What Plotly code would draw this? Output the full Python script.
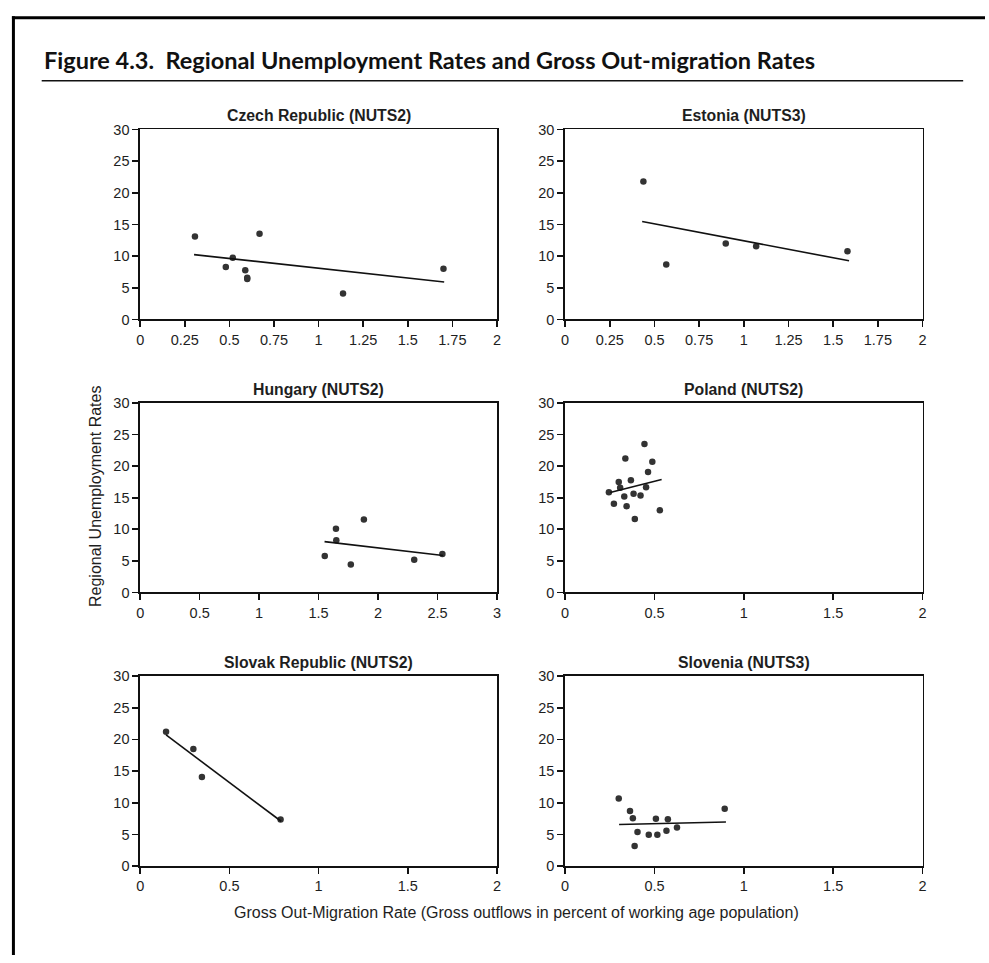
import plotly.graph_objects as go

W, H = 989, 963          # browser window; page margin removed below

# ---------------- data ----------------
czech_x = [0.307, 0.48, 0.519, 0.589, 0.60, 0.60, 0.669, 1.137, 1.70]
czech_y = [13.1, 8.28, 9.73, 7.76, 6.6, 6.4, 13.55, 4.09, 8.02]
czech_fit_x = [0.302, 1.704]
czech_fit_y = [10.24, 5.9]

estonia_x = [0.438, 0.566, 0.899, 1.069, 1.58]
estonia_y = [21.78, 8.69, 12.0, 11.54, 10.76]
estonia_fit_x = [0.431, 1.589]
estonia_fit_y = [15.47, 9.26]

hungary_x = [1.552, 1.646, 1.649, 1.771, 1.881, 2.304, 2.541]
hungary_y = [5.76, 10.07, 8.25, 4.41, 11.57, 5.19, 6.07]
hungary_fit_x = [1.55, 2.547]
hungary_fit_y = [8.04, 5.86]

poland_x = [0.245, 0.273, 0.300, 0.308, 0.331, 0.337, 0.344, 0.368, 0.383,
            0.390, 0.422, 0.444, 0.453, 0.464, 0.488, 0.530]
poland_y = [15.88, 14.06, 17.49, 16.6, 15.2, 21.2, 13.65, 17.75, 15.62,
            11.62, 15.36, 23.5, 16.66, 19.06, 20.7, 13.0]
poland_fit_x = [0.252, 0.54]
poland_fit_y = [15.83, 17.9]

slovak_x = [0.145, 0.298, 0.346, 0.787]
slovak_y = [21.2, 18.47, 14.07, 7.35]
slovak_fit_x = [0.145, 0.79]
slovak_fit_y = [20.7, 7.09]

slovenia_x = [0.30, 0.363, 0.379, 0.389, 0.405, 0.468, 0.508, 0.516, 0.567,
              0.575, 0.626, 0.893]
slovenia_y = [10.66, 8.69, 7.55, 3.2, 5.38, 4.97, 7.5, 4.97, 5.59, 7.4, 6.1, 9.05]
slovenia_fit_x = [0.302, 0.9]
slovenia_fit_y = [6.57, 6.98]

titles = ["Czech Republic (NUTS2)", "Estonia (NUTS3)", "Hungary (NUTS2)",
          "Poland (NUTS2)", "Slovak Republic (NUTS2)", "Slovenia (NUTS3)"]

ticks_quarter = [0, 0.25, 0.5, 0.75, 1, 1.25, 1.5, 1.75, 2]
ticks_quarter_text = ["0", "0.25", "0.5", "0.75", "1", "1.25", "1.5", "1.75", "2"]
ticks_half2 = [0, 0.5, 1, 1.5, 2]
ticks_half2_text = ["0", "0.5", "1", "1.5", "2"]
ticks_half3 = [0, 0.5, 1, 1.5, 2, 2.5, 3]
ticks_half3_text = ["0", "0.5", "1", "1.5", "2", "2.5", "3"]
y_ticks = [0, 5, 10, 15, 20, 25, 30]

fig_title = "Figure 4.3.  Regional Unemployment Rates and Gross Out-migration Rates"
y_title = "Regional Unemployment Rates"
x_title = "Gross Out-Migration Rate (Gross outflows in percent of working age population)"

# ---------------- layout helpers (page pixels -> paper) ----------------
def px_x(p):
    return p / W

def px_y(p):
    return 1 - p / H

col_x = [(137.3, 497.0), (565.7, 926.0)]
row_y = [(123.5, 316.7), (401.7, 594.3), (679.3, 872.7)]

panels = [
    (czech_x, czech_y, czech_fit_x, czech_fit_y, [0, 2], ticks_quarter, ticks_quarter_text),
    (estonia_x, estonia_y, estonia_fit_x, estonia_fit_y, [0, 2], ticks_quarter, ticks_quarter_text),
    (hungary_x, hungary_y, hungary_fit_x, hungary_fit_y, [0, 3], ticks_half3, ticks_half3_text),
    (poland_x, poland_y, poland_fit_x, poland_fit_y, [0, 2], ticks_half2, ticks_half2_text),
    (slovak_x, slovak_y, slovak_fit_x, slovak_fit_y, [0, 2], ticks_half2, ticks_half2_text),
    (slovenia_x, slovenia_y, slovenia_fit_x, slovenia_fit_y, [0, 2], ticks_half2, ticks_half2_text),
]

FONT = "Liberation Sans, Arial, sans-serif"
TXT = "#1e1e1e"

fig = go.Figure()
layout = dict(
    width=W, height=H,
    margin=dict(l=0, r=0, t=0, b=0),
    paper_bgcolor="white", plot_bgcolor="white",
    showlegend=False,
    font=dict(family=FONT, color=TXT, size=14),
)
annotations = []
shapes = []

for i, (xs, ys, fx, fy, xr, tv, tt) in enumerate(panels):
    r, c = divmod(i, 2)
    n = "" if i == 0 else str(i + 1)
    xa, ya = "x" + n, "y" + n
    fig.add_trace(go.Scatter(x=xs, y=ys, mode="markers", xaxis=xa, yaxis=ya,
                             marker=dict(size=6.5, color="#333333")))
    fig.add_trace(go.Scatter(x=fx, y=fy, mode="lines", xaxis=xa, yaxis=ya,
                             line=dict(color="#111111", width=1.6)))
    x0, x1 = col_x[c]
    y0, y1 = row_y[r]
    common = dict(showgrid=False, zeroline=False, showline=True, linecolor="#111111",
                  linewidth=1.8, mirror=True, ticks="outside", ticklen=6, tickwidth=1.6,
                  tickcolor="#111111", tickfont=dict(family=FONT, size=14.5, color=TXT),
                  fixedrange=True)
    layout["xaxis" + n] = dict(common, domain=[px_x(x0), px_x(x1)], range=xr,
                               tickvals=tv, ticktext=tt, anchor=ya)
    layout["yaxis" + n] = dict(common, domain=[px_y(y1), px_y(y0)], range=[0, 30],
                               tickvals=y_ticks, anchor=xa)
    annotations.append(dict(text="<b>" + titles[i] + "</b>", x=px_x((x0 + x1) / 2),
                            y=px_y(y0 - 3), xref="paper", yref="paper",
                            xanchor="center", yanchor="bottom", showarrow=False,
                            font=dict(family=FONT, size=15.8, color=TXT)))

annotations.append(dict(text="<b>" + fig_title + "</b>", x=px_x(38), y=px_y(53),
                        xref="paper", yref="paper", xanchor="left", yanchor="middle",
                        showarrow=False,
                        font=dict(family="Lato, Noto Sans, sans-serif",
                                  size=23.5, color="#111111")))
annotations.append(dict(text=y_title, x=px_x(92), y=px_y(497), xref="paper", yref="paper",
                        xanchor="center", yanchor="middle", textangle=-90, showarrow=False,
                        font=dict(family=FONT, size=16, color=TXT)))
annotations.append(dict(text=x_title, x=px_x(517), y=px_y(920), xref="paper", yref="paper",
                        xanchor="center", yanchor="middle", showarrow=False,
                        font=dict(family=FONT, size=16, color=TXT)))

# frame and rule
shapes.append(dict(type="line", xref="paper", yref="paper", x0=px_x(8), x1=1.0,
                   y0=px_y(10), y1=px_y(10), line=dict(color="black", width=3)))
shapes.append(dict(type="line", xref="paper", yref="paper", x0=px_x(9.5), x1=px_x(9.5),
                   y0=px_y(8.5), y1=0, line=dict(color="black", width=3)))
shapes.append(dict(type="line", xref="paper", yref="paper", x0=px_x(38), x1=px_x(967),
                   y0=px_y(74), y1=px_y(74), line=dict(color="#111111", width=1.5)))

layout["annotations"] = annotations
layout["shapes"] = shapes
fig.update_layout(**layout)
fig.write_html(
    "out.html",
    config={"displayModeBar": False, "staticPlot": True},
    post_script="document.body.style.margin='0';document.body.style.overflow='hidden';",
)
